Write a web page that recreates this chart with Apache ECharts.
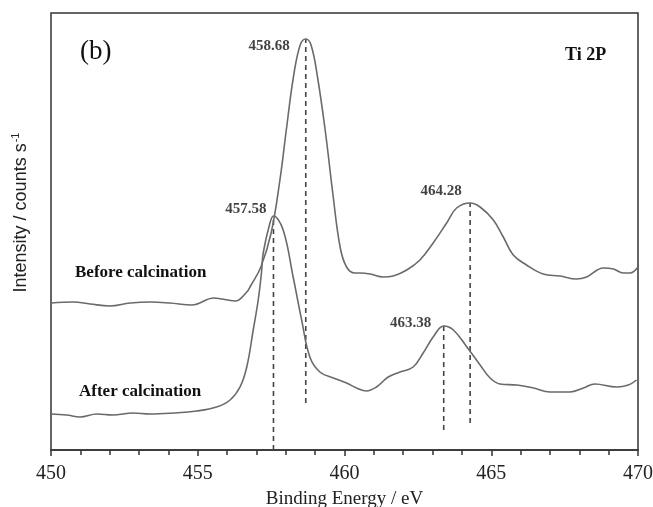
<!DOCTYPE html>
<html>
<head>
<meta charset="utf-8">
<script src="https://cdn.jsdelivr.net/npm/echarts@6/dist/echarts.min.js"></script>
<style>
  html, body { margin: 0; padding: 0; background: #fff; }
  #chart { width: 653px; height: 507px; }
</style>
</head>
<body>
<div id="chart"></div>
<script>
// Ti 2p XPS spectra (intensity in arbitrary counts)
const beforeEnergy = [450.0, 450.76, 451.33, 452.0, 452.7, 453.4, 454.05, 454.8, 455.55, 456.27, 456.67, 456.8, 457.15, 457.5, 457.8, 458.03, 458.26, 458.49, 458.68, 458.86, 459.08, 459.35, 459.6, 459.85, 460.07, 460.35, 460.53, 460.87, 461.32, 461.66, 462.12, 462.57, 463.02, 463.48, 463.82, 464.28, 464.62, 465.07, 465.41, 465.75, 466.2, 466.77, 467.34, 467.9, 468.25, 468.82, 469.16, 469.5, 469.73, 470.0];
const beforeCounts = [147, 148, 146, 144, 147, 148, 147, 145, 152, 149, 158, 164, 183, 217, 270, 323, 373, 405, 411, 405, 373, 318, 257, 203, 183, 177, 177, 176, 173, 174, 180, 190, 207, 227, 242, 247, 243, 230, 213, 195, 185, 176, 174, 171, 173, 182, 181, 177, 177, 183];

const afterEnergy = [450.0, 450.53, 450.99, 451.56, 452.1, 452.8, 453.37, 454.17, 454.96, 455.64, 456.1, 456.44, 456.67, 456.89, 457.06, 457.17, 457.23, 457.46, 457.58, 457.91, 458.25, 458.54, 458.82, 459.16, 459.62, 460.07, 460.41, 460.75, 461.09, 461.49, 461.89, 462.34, 462.68, 463.02, 463.38, 463.71, 464.17, 464.62, 464.96, 465.3, 465.87, 466.44, 467.0, 467.68, 468.14, 468.53, 469.27, 469.67, 469.95];
const afterCounts = [36, 35, 33, 36, 35, 37, 36, 37, 39, 43, 50, 63, 83, 120, 150, 177, 197, 227, 234, 220, 173, 130, 93, 78, 72, 67, 62, 59, 63, 73, 78, 83, 97, 113, 124, 120, 103, 85, 72, 66, 65, 62, 58, 58, 62, 66, 63, 65, 70];

// peak markers: position, top of the dashed line, bottom of the dashed line
const peakEnergy = [458.68, 457.58, 464.28, 463.38];
const peakTop = [411, 234, 247, 124];
const peakBottom = [47, 0, 27, 20];
const peakLabels = ["458.68", "457.58", "464.28", "463.38"];

const xTicks = [450, 455, 460, 465, 470];

const gray = "#6a6a6a";
const serif = "'Liberation Serif', 'Times New Roman', serif";

const chart = echarts.init(document.getElementById("chart"));

const zip = (xs, ys) => xs.map((x, i) => [x, ys[i]]);

const dashSeries = peakEnergy.map((e, i) => ({
  type: "line",
  data: [[e, peakBottom[i]], [e, peakTop[i]]],
  showSymbol: false,
  silent: true,
  lineStyle: { color: "#444", width: 1.6, type: [5, 4] },
  z: 1
}));

// label offsets relative to each peak (pixels)
const labelPos = [
  { position: "left", offset: [-11, 7] },
  { position: "left", offset: [-2, -7] },
  { position: "top", offset: [-29, 1] },
  { position: "top", offset: [-33, 10] }
];

chart.setOption({
  animation: false,
  grid: {
    left: 51, right: 15, top: 13, bottom: 57,
    outerBoundsMode: "none",
    show: true, borderColor: "#333", borderWidth: 1.5
  },
  xAxis: {
    type: "value",
    min: xTicks[0],
    max: xTicks[xTicks.length - 1],
    interval: 5,
    name: "Binding Energy / eV",
    nameLocation: "middle",
    nameGap: 40,
    nameTextStyle: { fontFamily: serif, fontSize: 19, color: "#222" },
    axisLine: { lineStyle: { color: "#333", width: 1.5 } },
    axisTick: { inside: false, length: 6, lineStyle: { color: "#333", width: 1.5 } },
    minorTick: { show: true, splitNumber: 5, length: 5, lineStyle: { color: "#333", width: 1.5 } },
    axisLabel: { margin: 14, fontFamily: serif, fontSize: 20, color: "#222" },
    splitLine: { show: false }
  },
  yAxis: {
    type: "value",
    min: 0,
    max: 437,
    name: "Intensity / counts s{sup|-1}",
    nameLocation: "middle",
    nameGap: 19,
    nameTextStyle: {
      fontFamily: "'Liberation Sans', Arial, sans-serif", fontSize: 18, color: "#222",
      padding: [0, 0, 0, 38],
      rich: { sup: { fontSize: 11, verticalAlign: "top", padding: [0, 0, 11, 1] } }
    },
    axisLine: { show: false },
    axisTick: { show: false },
    axisLabel: { show: false },
    splitLine: { show: false }
  },
  series: [
    ...dashSeries,
    {
      name: "Before calcination",
      type: "line",
      data: zip(beforeEnergy, beforeCounts),
      smooth: 0.4,
      showSymbol: false,
      lineStyle: { color: gray, width: 1.6 },
      z: 3
    },
    {
      name: "After calcination",
      type: "line",
      data: zip(afterEnergy, afterCounts),
      smooth: 0.4,
      showSymbol: false,
      lineStyle: { color: gray, width: 1.6 },
      z: 3
    },
    {
      type: "scatter",
      symbolSize: 0,
      silent: true,
      data: peakEnergy.map((e, i) => ({
        value: [e, peakTop[i]],
        label: {
          show: true,
          formatter: peakLabels[i],
          position: labelPos[i].position,
          offset: labelPos[i].offset,
          fontFamily: serif,
          fontSize: 15,
          fontWeight: "bold",
          color: "#111"
        }
      })),
      z: 4
    }
  ],
  graphic: [
    { type: "text", left: 80, top: 38, style: { text: "(b)", font: "27px " + serif, fill: "#111" } },
    { type: "text", left: 565, top: 46, style: { text: "Ti 2P", font: "bold 18px " + serif, fill: "#111" } },
    { type: "text", left: 75, top: 264, style: { text: "Before calcination", font: "bold 17px " + serif, fill: "#111" } },
    { type: "text", left: 79, top: 383, style: { text: "After calcination", font: "bold 17px " + serif, fill: "#111" } }
  ]
});
</script>
</body>
</html>
